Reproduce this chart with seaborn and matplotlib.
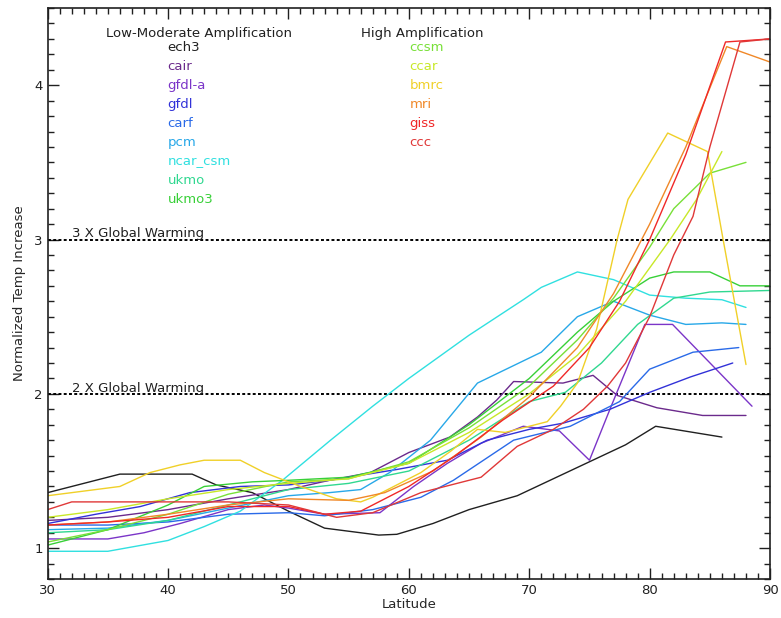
import numpy as np
import pandas as pd
import matplotlib
matplotlib.use("Agg")
import matplotlib.pyplot as plt
import seaborn as sns
from matplotlib.ticker import MultipleLocator

# models, split in the two groups of the legend
low_models = ["ech3", "cair", "gfdl-a", "gfdl", "carf", "pcm", "ncar_csm", "ukmo", "ukmo3"]
high_models = ["ccsm", "ccar", "bmrc", "mri", "giss", "ccc"]

model_colors = {
    "ech3": "#202020", "cair": "#6b2a8c", "gfdl-a": "#7b35c8", "gfdl": "#3232d8",
    "carf": "#2a6ae8", "pcm": "#28a8e8", "ncar_csm": "#30e0e0", "ukmo": "#30d890",
    "ukmo3": "#38d038", "ccsm": "#78e038", "ccar": "#c8e828", "bmrc": "#f0d028",
    "mri": "#f08828", "giss": "#f02828", "ccc": "#e03838",
}

# latitude / normalized temp increase
ech3_lat = [30, 36, 42, 44, 47, 50, 53, 57.5, 59, 62, 65, 69, 72, 75, 78, 80.5, 86]
ech3_val = [1.36, 1.48, 1.48, 1.41, 1.36, 1.24, 1.13, 1.085, 1.09, 1.16, 1.25, 1.34, 1.45, 1.56, 1.67, 1.79, 1.72]

cair_lat = [30, 35, 40, 45, 50, 53.4, 56.8, 60, 63.4, 65.7, 67.3, 68.7, 72.8, 75.3, 77.3, 80.6, 84.4, 88]
cair_val = [1.18, 1.20, 1.25, 1.32, 1.38, 1.44, 1.49, 1.62, 1.72, 1.85, 1.96, 2.08, 2.07, 2.12, 1.99, 1.91, 1.86, 1.86]

gfdla_lat = [30, 35, 38, 41, 45, 48, 50, 53, 57.6, 60.4, 63.2, 66, 69.5, 72.5, 75, 76.7, 79.6, 81.9, 88.5]
gfdla_val = [1.06, 1.06, 1.10, 1.16, 1.25, 1.28, 1.26, 1.22, 1.23, 1.40, 1.55, 1.68, 1.79, 1.76, 1.57, 1.90, 2.45, 2.45, 1.92]

gfdl_lat = [30, 34, 37.7, 41.8, 46, 50, 53.4, 59, 63.2, 66.5, 70, 72.8, 76.7, 80, 83.4, 86.9]
gfdl_val = [1.16, 1.22, 1.27, 1.36, 1.40, 1.41, 1.44, 1.51, 1.57, 1.70, 1.77, 1.81, 1.90, 2.01, 2.11, 2.20]

carf_lat = [30, 35, 40, 45, 50, 53, 57, 61, 63.7, 68.7, 73.4, 77.5, 80, 83.6, 87.4]
carf_val = [1.15, 1.15, 1.17, 1.22, 1.23, 1.21, 1.25, 1.33, 1.44, 1.70, 1.79, 1.95, 2.16, 2.27, 2.30]

pcm_lat = [30, 35, 40, 45, 50, 53.4, 56, 58.4, 61.8, 65.7, 71, 74, 77, 80, 83, 86, 88]
pcm_val = [1.12, 1.13, 1.18, 1.26, 1.34, 1.36, 1.38, 1.49, 1.70, 2.07, 2.27, 2.50, 2.60, 2.51, 2.45, 2.46, 2.45]

ncar_lat = [30, 35, 40, 43, 46, 49.5, 53.5, 57, 60, 65, 69.5, 71, 74, 77, 80, 83, 86, 88]
ncar_val = [0.98, 0.98, 1.05, 1.14, 1.24, 1.44, 1.70, 1.92, 2.10, 2.38, 2.61, 2.69, 2.79, 2.74, 2.64, 2.62, 2.61, 2.56]

ukmo_lat = [30, 35, 40, 45, 50, 55, 60, 65, 70, 73, 76, 79, 82, 85, 90]
ukmo_val = [1.10, 1.12, 1.18, 1.28, 1.38, 1.42, 1.50, 1.70, 1.95, 2.01, 2.20, 2.45, 2.62, 2.66, 2.67]

ukmo3_lat = [30, 35, 40, 43, 47, 50, 55, 60, 65, 70, 74, 77, 80, 82, 85, 87.5, 90]
ukmo3_val = [1.02, 1.12, 1.28, 1.40, 1.43, 1.44, 1.46, 1.55, 1.80, 2.10, 2.40, 2.60, 2.75, 2.79, 2.79, 2.70, 2.70]

ccsm_lat = [30, 35, 40, 45, 50, 55, 60, 65, 70, 74, 77, 80, 82, 85, 88]
ccsm_val = [1.04, 1.12, 1.22, 1.35, 1.43, 1.45, 1.56, 1.78, 2.05, 2.35, 2.62, 2.95, 3.20, 3.43, 3.50]

ccar_lat = [30, 35, 40, 45, 50, 55, 60, 65, 70, 74, 78, 81.7, 83.9, 86]
ccar_val = [1.20, 1.25, 1.32, 1.38, 1.42, 1.45, 1.55, 1.75, 2.00, 2.25, 2.60, 3.00, 3.26, 3.57]

bmrc_lat = [30, 36, 38.5, 41, 43, 46, 48, 51, 54, 56, 57, 59, 61, 63.5, 65.7, 68, 70, 71.5, 72.6, 74, 75.6, 77.3, 78.2, 81.5, 84.8, 86.1, 88]
bmrc_val = [1.34, 1.40, 1.49, 1.54, 1.57, 1.57, 1.49, 1.40, 1.32, 1.30, 1.33, 1.41, 1.49, 1.63, 1.77, 1.75, 1.79, 1.82, 1.92, 2.07, 2.42, 3.00, 3.26, 3.69, 3.57, 3.00, 2.19]

mri_lat = [30, 35, 40, 45, 50, 55, 58, 62, 66, 70, 74, 77, 80, 83, 86.4, 90]
mri_val = [1.15, 1.17, 1.22, 1.28, 1.32, 1.31, 1.36, 1.50, 1.72, 1.98, 2.30, 2.65, 3.10, 3.60, 4.25, 4.15]

giss_lat = [30, 35, 40, 45, 50, 53, 56, 60, 63.7, 67.8, 72, 75, 77.5, 80, 83, 86.3, 90]
giss_val = [1.15, 1.17, 1.20, 1.27, 1.27, 1.22, 1.24, 1.40, 1.59, 1.83, 2.05, 2.30, 2.60, 3.00, 3.55, 4.28, 4.30]

ccc_lat = [30, 32, 45, 50, 54, 57, 61, 66, 69, 72, 74.5, 76.5, 78, 80, 82, 83.6, 85, 87.5, 90]
ccc_val = [1.25, 1.30, 1.30, 1.28, 1.20, 1.23, 1.36, 1.46, 1.66, 1.77, 1.90, 2.05, 2.20, 2.50, 2.90, 3.15, 3.60, 4.28, 4.30]

series = {
    "ech3": (ech3_lat, ech3_val), "cair": (cair_lat, cair_val), "gfdl-a": (gfdla_lat, gfdla_val),
    "gfdl": (gfdl_lat, gfdl_val), "carf": (carf_lat, carf_val), "pcm": (pcm_lat, pcm_val),
    "ncar_csm": (ncar_lat, ncar_val), "ukmo": (ukmo_lat, ukmo_val), "ukmo3": (ukmo3_lat, ukmo3_val),
    "ccsm": (ccsm_lat, ccsm_val), "ccar": (ccar_lat, ccar_val), "bmrc": (bmrc_lat, bmrc_val),
    "mri": (mri_lat, mri_val), "giss": (giss_lat, giss_val), "ccc": (ccc_lat, ccc_val),
}

rows = []
for name, (lats, vals) in series.items():
    for la, v in zip(lats, vals):
        rows.append({"model": name, "lat": la, "val": v})
df = pd.DataFrame(rows)

sns.set_style("ticks")
plt.rcParams['font.family'] = ['DejaVu Sans']

fig = plt.figure(figsize=(7.81, 6.18), dpi=100)
ax = fig.add_axes([0.061, 0.063, 0.925, 0.924])

sns.lineplot(data=df, x="lat", y="val", hue="model", palette=model_colors,
             hue_order=low_models + high_models, estimator=None, sort=False,
             linewidth=1.0, legend=False, ax=ax)

# 2x and 3x global warming reference lines
for lvl, txt in [(2, "2 X Global Warming"), (3, "3 X Global Warming")]:
    ax.axhline(lvl, color="black", linestyle=(0, (1.5, 1.2)), linewidth=1.4, zorder=1)
    ax.text(32.0, lvl - 0.005, txt, fontsize=9.5, color="#202020", va="bottom", ha="left")

# legend drawn as text lists
ax.text(0.21, 0.955, "Low-Moderate Amplification", transform=ax.transAxes,
        ha="center", va="center", fontsize=9.5, color="#202020")
ax.text(0.518, 0.955, "High Amplification", transform=ax.transAxes,
        ha="center", va="center", fontsize=9.5, color="#202020")
for i, name in enumerate(low_models):
    ax.text(0.166, 0.931 - i * 0.0333, name, transform=ax.transAxes,
            ha="left", va="center", fontsize=9.5, color=model_colors[name])
for i, name in enumerate(high_models):
    ax.text(0.501, 0.931 - i * 0.0333, name, transform=ax.transAxes,
            ha="left", va="center", fontsize=9.5, color=model_colors[name])

ax.set_xlim(30, 90)
ax.set_ylim(0.8, 4.5)
ax.xaxis.set_major_locator(MultipleLocator(10))
ax.xaxis.set_minor_locator(MultipleLocator(1))
ax.yaxis.set_major_locator(MultipleLocator(1))
ax.yaxis.set_minor_locator(MultipleLocator(0.1))
ax.tick_params(which="both", direction="in", top=True, right=True, colors="#202020", labelsize=9.5)
ax.tick_params(which="major", length=8, width=1)
ax.tick_params(which="minor", length=4, width=1)
for sp in ax.spines.values():
    sp.set_color("#202020")
    sp.set_linewidth(1.2)

ax.set_xlabel("Latitude", fontsize=9.5, labelpad=1)
ax.set_ylabel("Normalized Temp Increase", fontsize=9.5, labelpad=6)

fig.savefig("out.png", dpi=100)
